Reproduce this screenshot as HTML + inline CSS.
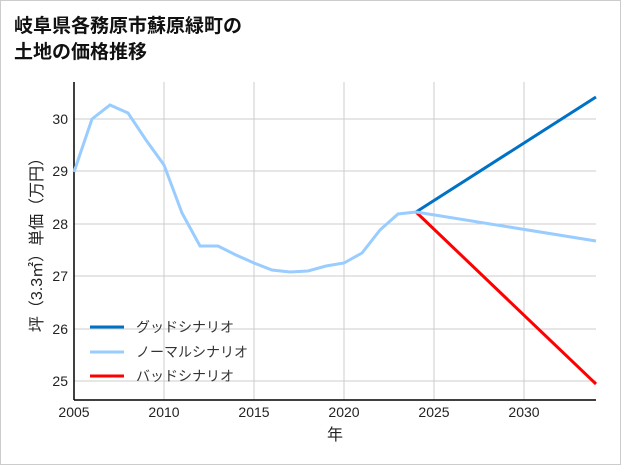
<!DOCTYPE html>
<html><head><meta charset="utf-8"><style>
body{margin:0;background:#fff;}
.wrap{width:619px;height:463px;border:1px solid #ccc;position:relative;background:#fff;}
svg text{font-family:"Liberation Sans","Noto Sans CJK JP",sans-serif;}
</style></head><body><div class="wrap">
<svg width="621" height="465" viewBox="0 0 621 465" style="position:absolute;left:-1px;top:-1px">
<text x="14" y="32" font-size="19" font-weight="bold" fill="#111">岐阜県各務原市蘇原緑町の</text>
<text x="14" y="58" font-size="19" font-weight="bold" fill="#111">土地の価格推移</text>
<g stroke="#ccc" stroke-width="1">
<line x1="164" y1="82" x2="164" y2="400"/><line x1="254" y1="82" x2="254" y2="400"/>
<line x1="344" y1="82" x2="344" y2="400"/><line x1="434" y1="82" x2="434" y2="400"/>
<line x1="524" y1="82" x2="524" y2="400"/>
<line x1="74" y1="119" x2="596" y2="119"/><line x1="74" y1="171" x2="596" y2="171"/>
<line x1="74" y1="224" x2="596" y2="224"/><line x1="74" y1="276" x2="596" y2="276"/>
<line x1="74" y1="329" x2="596" y2="329"/><line x1="74" y1="381" x2="596" y2="381"/>
</g>
<line x1="74" y1="82" x2="74" y2="400" stroke="#000" stroke-width="1.5"/>
<line x1="74" y1="400" x2="596" y2="400" stroke="#000" stroke-width="1.5"/>
<g font-size="14" fill="#222" text-anchor="end">
<text x="68" y="124">30</text><text x="68" y="176">29</text><text x="68" y="229">28</text>
<text x="68" y="281">27</text><text x="68" y="334">26</text><text x="68" y="386">25</text>
</g>
<g font-size="14" fill="#222" text-anchor="middle">
<text x="74" y="417">2005</text><text x="164" y="417">2010</text><text x="254" y="417">2015</text>
<text x="344" y="417">2020</text><text x="434" y="417">2025</text><text x="524" y="417">2030</text>
<text x="335" y="440" font-size="16">年</text>
</g>
<text transform="translate(42,241) rotate(-90)" font-size="16" fill="#222" text-anchor="middle">坪（3.3㎡）単価（万円）</text>
<polyline fill="none" stroke="#0072c6" stroke-width="3" points="416,212 596,97"/>
<polyline fill="none" stroke="#ff0000" stroke-width="3" points="416,212 596,384"/>
<polyline fill="none" stroke="#99ccff" stroke-width="3" points="416,212 596,241"/>
<polyline fill="none" stroke="#99ccff" stroke-width="3" points="74,172 92,119 110,105 128,113 146,140 164,165 182,213 200,246 218,246 236,255 254,263 272,270 290,272 308,271 326,266 344,263 362,253 380,230 398,214 416,212"/>
<g font-size="14" fill="#333">
<line x1="90" y1="327" x2="124" y2="327" stroke="#0072c6" stroke-width="3"/><text x="136" y="332">グッドシナリオ</text>
<line x1="90" y1="352" x2="124" y2="352" stroke="#99ccff" stroke-width="3"/><text x="136" y="357">ノーマルシナリオ</text>
<line x1="90" y1="376" x2="124" y2="376" stroke="#ff0000" stroke-width="3"/><text x="136" y="381">バッドシナリオ</text>
</g>
</svg></div></body></html>
